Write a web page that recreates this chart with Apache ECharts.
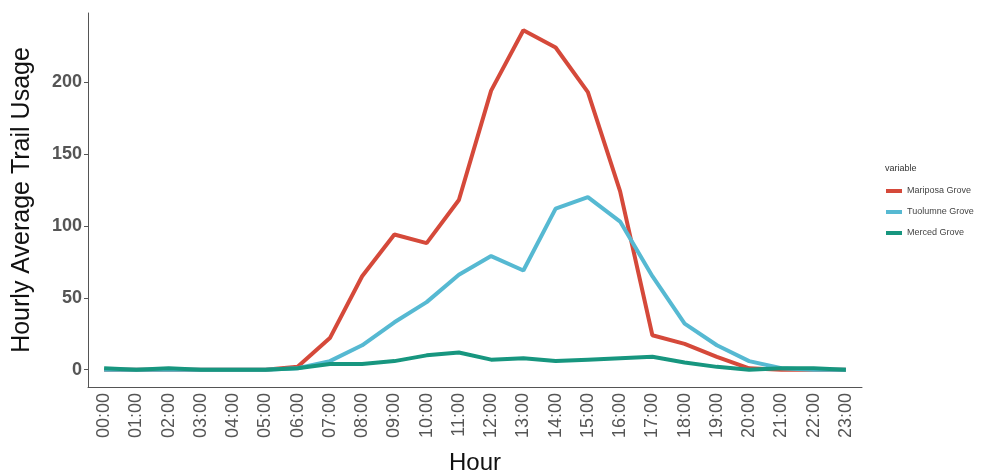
<!DOCTYPE html>
<html>
<head>
<meta charset="utf-8">
<script src="https://cdn.jsdelivr.net/npm/echarts@6/dist/echarts.min.js"></script>
<style>
  html, body { margin: 0; padding: 0; background: #fff; }
  #chart { width: 993px; height: 475px; }
</style>
</head>
<body>
<div id="chart"></div>
<script>
var hours = ['00:00', '01:00', '02:00', '03:00', '04:00', '05:00', '06:00', '07:00',
  '08:00', '09:00', '10:00', '11:00', '12:00', '13:00', '14:00', '15:00',
  '16:00', '17:00', '18:00', '19:00', '20:00', '21:00', '22:00', '23:00']

var mariposa = [0, 0, 0, 0, 0, 0, 2, 22, 65, 94, 88, 118, 194, 236, 224, 193, 124, 24, 18, 9, 1, 0, 0, 0]
var tuolumne = [0, 0, 0, 0, 0, 0, 1, 6, 17, 33, 47, 66, 79, 69, 112, 120, 103, 65, 32, 17, 6, 1, 0, 0]
var merced = [1, 0, 1, 0, 0, 0, 1, 4, 4, 6, 10, 12, 7, 8, 6, 7, 8, 9, 5, 2, 0, 1, 1, 0]

var yTicks = [0, 50, 100, 150, 200]

var chart = echarts.init(document.getElementById('chart'))

function line(name, data, color) {
  return {
    name: name,
    type: 'line',
    data: data,
    showSymbol: false,
    symbol: 'none',
    animation: false,
    lineStyle: { color: color, width: 4 },
    itemStyle: { color: color }
  }
}

chart.setOption({
  backgroundColor: '#fff',
  title: {
    text: 'variable',
    left: 880,
    top: 159,
    textStyle: { fontFamily: 'Liberation Sans', fontSize: 9, fontWeight: 'normal', color: '#333' }
  },
  legend: {
    orient: 'vertical',
    left: 881,
    top: 180,
    itemGap: 9,
    itemWidth: 16,
    itemHeight: 4,
    icon: 'rect',
    textStyle: { fontFamily: 'Liberation Sans', fontSize: 9, color: '#444', lineHeight: 12 },
    data: ['Mariposa Grove', 'Tuolumne Grove', 'Merced Grove']
  },
  grid: {
    left: 88,
    top: 13,
    width: 774,
    bottom: 88,
    containLabel: false,
    outerBoundsMode: 'none'
  },
  xAxis: {
    type: 'category',
    data: hours,
    boundaryGap: true,
    name: 'Hour',
    nameLocation: 'middle',
    nameGap: 64,
    nameTextStyle: { fontFamily: 'Liberation Sans', fontSize: 24, color: '#111' },
    axisLine: { onZero: false, lineStyle: { color: '#555', width: 1 } },
    axisTick: { alignWithLabel: true, length: 4, lineStyle: { color: '#555' } },
    axisLabel: {
      rotate: 90,
      margin: 6,
      interval: 0,
      fontFamily: 'Liberation Sans',
      fontSize: 18,
      color: '#555'
    },
    splitLine: { show: false }
  },
  yAxis: {
    type: 'value',
    min: -12,
    max: 248,
    name: 'Hourly Average Trail Usage',
    nameLocation: 'middle',
    nameGap: 53,
    nameTextStyle: { fontFamily: 'Liberation Sans', fontSize: 25, color: '#111' },
    axisLine: { show: true, lineStyle: { color: '#555', width: 1 } },
    axisTick: { show: true, length: 4, customValues: yTicks, lineStyle: { color: '#555' } },
    axisLabel: {
      customValues: yTicks,
      margin: 6,
      fontFamily: 'Liberation Sans',
      fontSize: 18,
      fontWeight: 'bold',
      color: '#555'
    },
    splitLine: { show: false }
  },
  series: [
    line('Mariposa Grove', mariposa, '#d5493a'),
    line('Tuolumne Grove', tuolumne, '#56b9d2'),
    line('Merced Grove', merced, '#17967f')
  ]
})
</script>
</body>
</html>
